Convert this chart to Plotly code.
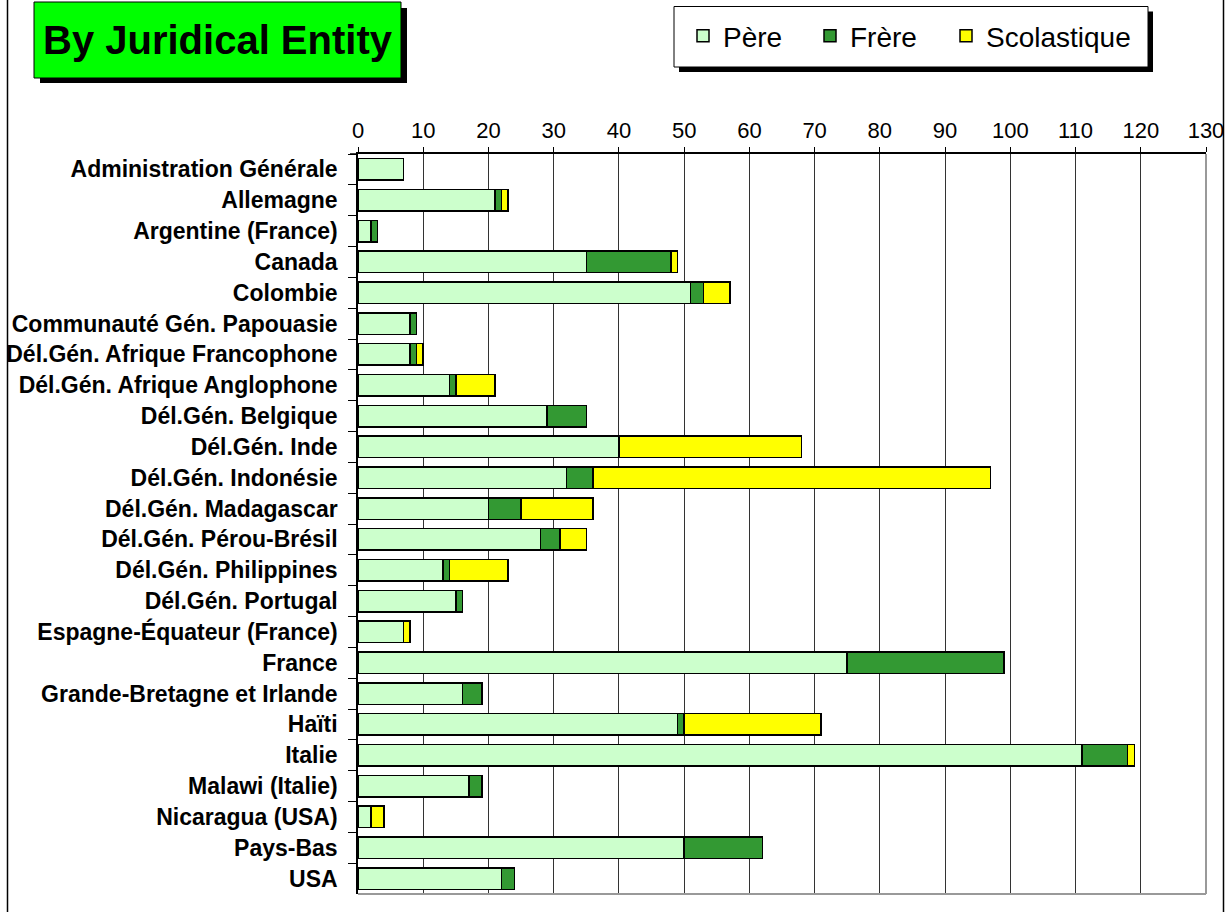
import plotly.graph_objects as go

categories = [
    "Administration Générale", "Allemagne", "Argentine (France)", "Canada", "Colombie",
    "Communauté Gén. Papouasie", "Dél.Gén. Afrique Francophone", "Dél.Gén. Afrique Anglophone",
    "Dél.Gén. Belgique", "Dél.Gén. Inde", "Dél.Gén. Indonésie", "Dél.Gén. Madagascar",
    "Dél.Gén. Pérou-Brésil", "Dél.Gén. Philippines", "Dél.Gén. Portugal",
    "Espagne-Équateur (France)", "France", "Grande-Bretagne et Irlande", "Haïti", "Italie",
    "Malawi (Italie)", "Nicaragua (USA)", "Pays-Bas", "USA",
]
pere        = [7, 21, 2, 35, 51, 8, 8, 14, 29, 40, 32, 20, 28, 13, 15, 7, 75, 16, 49, 111, 17, 2, 50, 22]
frere       = [0, 1, 1, 13, 2, 1, 1, 1, 6, 0, 4, 5, 3, 1, 1, 0, 24, 3, 1, 7, 2, 0, 12, 2]
scolastique = [0, 1, 0, 1, 4, 0, 1, 6, 0, 28, 61, 11, 4, 9, 0, 1, 0, 0, 21, 1, 0, 2, 0, 0]
series_names = ["Père", "Frère", "Scolastique"]
x_ticks = list(range(0, 131, 10))

colors = ["#CCFFCC", "#339933", "#FFFF00"]
FONT = "Liberation Sans, Arial, sans-serif"

# plot area in pixels
L, R, T, B = 358, 1206, 154, 894
W, H = 1230, 912


def px(x):
    return (x - L) / (R - L)


def py(y):
    return (B - y) / (B - T)


legend_ids = ["legend", "legend2", "legend3"]
legend_x_px = [683, 810, 946]

fig = go.Figure()
for name, vals, c, lid in zip(series_names, [pere, frere, scolastique], colors, legend_ids):
    fig.add_trace(go.Bar(
        y=categories, x=vals, name=name, orientation="h", legend=lid, showlegend=True,
        marker=dict(color=c, line=dict(color="black", width=1.5)),
    ))

shapes = []
# outer frame
for xx in (7.5, 1223.5):
    shapes.append(dict(type="line", xref="paper", yref="paper", x0=px(xx), x1=px(xx), y0=py(-5), y1=py(920),
                       line=dict(color="black", width=1.5)))
# plot area right/bottom gray border
shapes.append(dict(type="line", xref="paper", yref="paper", x0=1, x1=1, y0=0, y1=1,
                   line=dict(color="#999999", width=2)))
shapes.append(dict(type="line", xref="paper", yref="paper", x0=0, x1=1, y0=0, y1=0,
                   line=dict(color="#999999", width=2)))
# top axis line extends a little to the left
shapes.append(dict(type="line", xref="paper", yref="paper", x0=px(350), x1=0, y0=1, y1=1,
                   line=dict(color="black", width=1.5)))
# title box shadow and box
shapes.append(dict(type="rect", xref="paper", yref="paper", x0=px(40), x1=px(407), y0=py(8), y1=py(83),
                   fillcolor="black", line=dict(width=0)))
shapes.append(dict(type="rect", xref="paper", yref="paper", x0=px(34), x1=px(401), y0=py(2), y1=py(78),
                   fillcolor="#00FF00", line=dict(color="black", width=1)))
# legend shadow and box
shapes.append(dict(type="rect", xref="paper", yref="paper", x0=px(679), x1=px(1153), y0=py(11.5), y1=py(72),
                   fillcolor="black", line=dict(width=0)))
shapes.append(dict(type="rect", xref="paper", yref="paper", x0=px(674), x1=px(1148), y0=py(6.5), y1=py(67),
                   fillcolor="white", line=dict(color="black", width=1)))

legend_common = dict(orientation="h", xref="paper", yref="paper", y=py(36),
                     xanchor="left", yanchor="middle", bgcolor="rgba(0,0,0,0)", borderwidth=0,
                     font=dict(family=FONT, size=28, color="black"), itemwidth=30)

fig.update_layout(
    width=W, height=H,
    showlegend=True,
    paper_bgcolor="white", plot_bgcolor="white",
    margin=dict(l=L, r=W - R, t=T, b=H - B, pad=0, autoexpand=False),
    barmode="stack", bargap=0.3,
    font=dict(family=FONT, color="black"),
    shapes=shapes,
    annotations=[dict(text="<b>By Juridical Entity</b>", xref="paper", yref="paper",
                      x=px(217.5), y=py(40), xanchor="center", yanchor="middle",
                      showarrow=False, font=dict(family=FONT, size=40, color="black"))],
    legend=dict(x=px(legend_x_px[0]), **legend_common),
    legend2=dict(x=px(legend_x_px[1]), **legend_common),
    legend3=dict(x=px(legend_x_px[2]), **legend_common),
    xaxis=dict(side="top", range=[0, 130], tickvals=x_ticks, ticktext=[str(v) for v in x_ticks],
               showgrid=True, gridcolor="#333333", gridwidth=1, showline=True, linecolor="black",
               linewidth=1.5, ticks="outside", ticklen=5, tickcolor="black", automargin=False,
               tickfont=dict(family=FONT, size=22, color="black"), zeroline=False, fixedrange=True),
    yaxis=dict(autorange="reversed", showline=True, linecolor="black", linewidth=1.5,
               ticks="outside", tickson="boundaries", ticklen=8, tickcolor="black", automargin=False,
               tickfont=dict(family=FONT, size=23, color="black", weight="bold"),
               showgrid=False, ticklabelstandoff=14, fixedrange=True),
)

fig.write_html("out.html", config={"displayModeBar": False},
               post_script="document.body.style.margin='0px';document.body.style.padding='0px';"
                           "document.body.style.overflow='hidden';")
